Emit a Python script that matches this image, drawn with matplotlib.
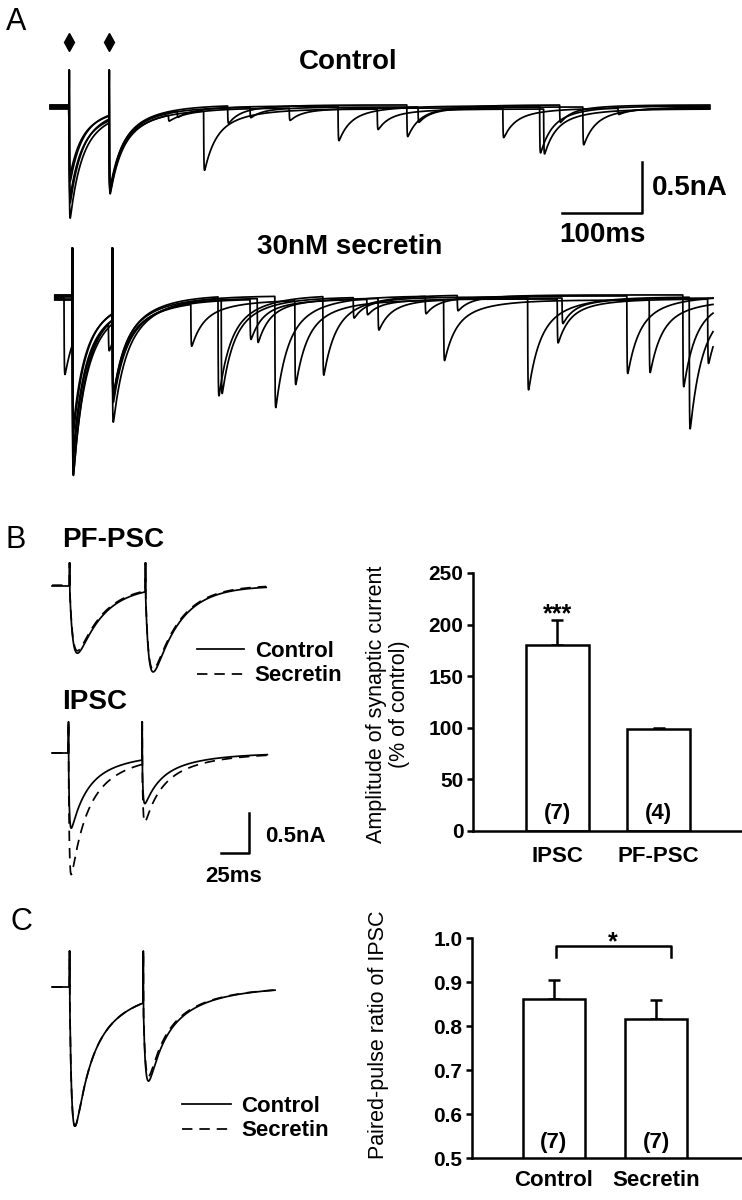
import numpy as np
import matplotlib
matplotlib.use('Agg')
import matplotlib.pyplot as plt

W, H = 742, 1200

plt.rcParams['font.family'] = ['Liberation Sans', 'DejaVu Sans']
plt.rcParams['font.weight'] = 'bold'
plt.rcParams['axes.linewidth'] = 1.8

# ---------------- data (times in ms, currents in nA) ----------------
# A: superimposed sweeps, paired stimulation
A_STIM_CTRL = [24, 74]
A_STIM_SEC = [28, 78]
A_ART_CTRL = 0.37
A_ART_SEC = 0.49
CTRL_DIP = [0.28, 0.0]
CTRL_EVOKED_1 = [1.08, 0.95, 0.85, 0.75, 0.66]
CTRL_EVOKED_2 = [0.70, 0.72, 0.68, 0.74, 0.70]
CTRL_OFFSET = [0.00, 0.02, -0.01, 0.03, 0.01]
CTRL_EV_T = [148, 159, 192, 222, 250, 299, 360, 409, 446, 460, 566, 612, 617, 637, 666, 710]
CTRL_EV_AMP = [0.06, 0.06, 0.58, 0.17, 0.10, 0.12, 0.34, 0.20, 0.31, 0.15, 0.29, 0.46, 0.44, 0.17, 0.37, 0.06]
CTRL_EV_SWEEP = [0, 1, 2, 3, 4, 0, 1, 2, 3, 4, 0, 1, 2, 3, 4, 0]

SEC_EVOKED_1 = [1.30, 1.76, 1.45, 1.35, 1.25, 1.55]
SEC_EVOKED_2 = [0.78, 0.80, 0.75, 0.82, 0.79, 0.77]
SEC_OFFSET = [0.00, 0.02, -0.02, 0.03, 0.01, -0.01]
SEC_EV_T = [17.5, 73, 176, 210, 214, 250, 259, 281, 306, 341, 379, 396,
            410, 469, 492, 509, 597, 634, 640, 721, 749, 791, 799, 822]
SEC_EV_AMP = [0.75, 0.27, 0.41, 0.97, 0.93, 0.39, 0.43, 1.09, 0.82, 0.77, 0.20, 0.15,
              0.31, 0.17, 0.59, 0.15, 0.91, 0.43, 0.25, 0.76, 0.71, 0.90, 1.29, 0.63]
SEC_EV_SWEEP = [0, 1, 2, 3, 4, 5, 0, 1, 2, 3, 4, 5, 0, 1, 2, 3, 4, 5, 0, 1, 2, 3, 4, 5]

# B: averaged traces
PF_STIM = [16, 85]
PF_ART = 0.29
PF_CTRL = [0.84, 1.02]
PF_SEC = [0.82, 1.00]
IPSC_STIM = [15, 82]
IPSC_ART = 0.39
IPSC_CTRL = [0.94, 0.55]
IPSC_SEC = [1.52, 0.73]
B_BARS = ['IPSC', 'PF-PSC']
B_MEAN = [180, 99]
B_SEM = [24, 1]
B_N = ['(7)', '(4)']

# C: normalised paired-pulse traces
C_STIM = [16, 83]
C_ART = 0.45
C_CTRL = [1.74, 1.00]
C_SEC = [1.74, 0.94]
C_BARS = ['Control', 'Secretin']
C_MEAN = [0.861, 0.816]
C_SEM = [0.044, 0.043]
C_N = ['(7)', '(7)']

# kinetics of the synaptic currents
TAU_FAST, TAU_SLOW, FAST_FRAC = 12.0, 40.0, 0.6
PF_RISE, PF_DECAY = 3.0, 24.0


def ipsc_shape(s, rise):
    return (1 - np.exp(-s / rise)) * (FAST_FRAC * np.exp(-s / TAU_FAST) + (1 - FAST_FRAC) * np.exp(-s / TAU_SLOW))


def ipsc(t, rise=0.3):
    s = np.clip(t, 0, None)
    peak = ipsc_shape(np.arange(0, 60, 0.01), rise).max()
    return ipsc_shape(s, rise) / peak


def pfpsc(t):
    s = np.clip(t, 0, None)
    g = np.arange(0, 60, 0.01)
    peak = (np.exp(-g / PF_DECAY) - np.exp(-g / PF_RISE)).max()
    return (np.exp(-s / PF_DECAY) - np.exp(-s / PF_RISE)) / peak


def sweep(t, stims, amps, art, kern, offset=0.0, dip=(0, 0), events=()):
    y = np.full(t.shape, float(offset))
    for ts, a in zip(stims, amps):
        y -= a * kern(t - ts)
    for te, a in events:
        y -= a * ipsc(t - te)
    for ts, d in zip(stims, dip):
        i = np.searchsorted(t, ts)
        if d:
            y[i - 1] = offset - d
        y[i] = art
    return y


fig = plt.figure(figsize=(W / 100, H / 100), dpi=100)


def trace_axes(left, top, right, bottom, x0, y0, sx, sy):
    # axes placed by pixel box; data origin (x0, y0) px, scale px/ms and px/nA
    ax = fig.add_axes([left / W, 1 - bottom / H, (right - left) / W, (bottom - top) / H])
    ax.set_xlim((left - x0) / sx, (right - x0) / sx)
    ax.set_ylim((y0 - bottom) / sy, (y0 - top) / sy)
    ax.axis('off')
    return ax


def fig_text(x, y, s, **kw):
    kw.setdefault('ha', 'left')
    kw.setdefault('va', 'center')
    fig.text(x / W, 1 - y / H, s, **kw)


LW = 1.25

# ---------------- panel A ----------------
axA1 = trace_axes(0, 25, 742, 240, 50, 108, 0.8, 102)
t_ctrl = np.arange(0, 825, 0.25)
for k in range(len(CTRL_EVOKED_1)):
    ev = [(tt, a) for tt, a, s in zip(CTRL_EV_T, CTRL_EV_AMP, CTRL_EV_SWEEP) if s == k]
    y = sweep(t_ctrl, A_STIM_CTRL, [CTRL_EVOKED_1[k], CTRL_EVOKED_2[k]], A_ART_CTRL,
              lambda x: ipsc(x, 0.3), CTRL_OFFSET[k], CTRL_DIP, ev)
    axA1.plot(t_ctrl, y, color='black', lw=LW)
axA1.plot(A_STIM_CTRL, [0.65, 0.65], ls='none', marker='d', ms=9, color='black')
axA1.plot([640, 740, 740], [-1.03, -1.03, -0.53], color='black', lw=1.8)
axA1.text(752, -0.78, '0.5nA', ha='left', va='center', fontsize=20)
axA1.text(690, -1.245, '100ms', ha='center', va='center', fontsize=20)

axA2 = trace_axes(0, 235, 742, 495, 50, 298, 0.8, 102)
t_sec = np.arange(6, 829, 0.25)
for k in range(len(SEC_EVOKED_1)):
    ev = [(tt, a) for tt, a, s in zip(SEC_EV_T, SEC_EV_AMP, SEC_EV_SWEEP) if s == k]
    y = sweep(t_sec, A_STIM_SEC, [SEC_EVOKED_1[k], SEC_EVOKED_2[k]], A_ART_SEC,
              lambda x: ipsc(x, 0.3), SEC_OFFSET[k], (0, 0), ev)
    axA2.plot(t_sec, y, color='black', lw=LW)

fig_text(6, 22, 'A', fontsize=22, fontweight='normal')
fig_text(348, 62, 'Control', ha='center', fontsize=20)
fig_text(350, 247, '30nM secretin', ha='center', fontsize=20)

# ---------------- panel B traces ----------------
axPF = trace_axes(0, 550, 360, 695, 52, 586, 1.1, 80)
t_b = np.arange(0, 195, 0.25)
axPF.plot(t_b, sweep(t_b, PF_STIM, PF_SEC, PF_ART, pfpsc, 0.01), color='black', lw=LW, ls=(0, (6, 4)))
axPF.plot(t_b, sweep(t_b, PF_STIM, PF_CTRL, PF_ART, pfpsc), color='black', lw=LW)

axIP = trace_axes(0, 710, 360, 900, 52, 753, 1.1, 80)
t_i = np.arange(0, 196, 0.25)
l_sec, = axIP.plot(t_i, sweep(t_i, IPSC_STIM, IPSC_SEC, IPSC_ART, lambda x: ipsc(x, 0.8)),
                   color='black', lw=LW, ls=(0, (6, 4)))
l_ctrl, = axIP.plot(t_i, sweep(t_i, IPSC_STIM, IPSC_CTRL, IPSC_ART, lambda x: ipsc(x, 0.8)),
                    color='black', lw=LW)
axIP.plot([154, 179, 179], [-1.25, -1.25, -0.75], color='black', lw=1.8)
axIP.text(194, -1.05, '0.5nA', ha='left', va='center', fontsize=16)
axIP.text(165, -1.55, '25ms', ha='center', va='center', fontsize=16)

fig_text(6, 540, 'B', fontsize=22, fontweight='normal')
fig_text(62, 540, 'PF-PSC', fontsize=20)
fig_text(62, 702, 'IPSC', fontsize=20)
fig.legend([l_ctrl, l_sec], ['Control', 'Secretin'], loc='upper left',
           bbox_to_anchor=(197 / W, 1 - 641 / H), frameon=False, handlelength=2.1,
           handletextpad=0.5, labelspacing=0.15, borderpad=0, borderaxespad=0,
           prop={'weight': 'bold', 'size': 16})

# ---------------- panel B bars ----------------
axb = fig.add_axes([473 / W, 1 - 831 / H, 269 / W, 258 / H])
xb = np.arange(len(B_BARS))
axb.bar(xb, B_MEAN, width=0.62, color='white', edgecolor='black', linewidth=1.8, zorder=2)
axb.errorbar(xb, B_MEAN, yerr=[np.zeros(len(B_SEM)), B_SEM], fmt='none', ecolor='black',
             elinewidth=1.8, capsize=4.5, capthick=1.8, zorder=1)
for i, n in enumerate(B_N):
    axb.text(i, 17.4, n, ha='center', va='center', fontsize=16)
axb.text(0, 203, '***', ha='center', va='baseline', fontsize=18)
axb.set_xlim(-0.83, 1.82)
axb.set_ylim(0, 250)
axb.set_yticks(range(0, 251, 50))
axb.set_xticks(xb, B_BARS)
axb.spines[['top', 'right']].set_visible(False)
axb.tick_params(axis='x', length=0, pad=11, labelsize=16)
axb.tick_params(axis='y', direction='out', length=4, width=1.8, labelsize=15, pad=3)
axb.set_ylabel('Amplitude of synaptic current\n(% of control)', fontsize=15.5,
               ha='center', va='center', linespacing=1.1)
axb.yaxis.set_label_coords(-0.316, 0.49)

# ---------------- panel C traces ----------------
axC = trace_axes(0, 935, 360, 1160, 52, 987, 1.1, 80)
t_c = np.arange(0, 203, 0.25)
l_csec, = axC.plot(t_c, sweep(t_c, C_STIM, C_SEC, C_ART, lambda x: ipsc(x, 2.2)),
                   color='black', lw=LW, ls=(0, (6, 4)))
l_cctrl, = axC.plot(t_c, sweep(t_c, C_STIM, C_CTRL, C_ART, lambda x: ipsc(x, 2.2)),
                    color='black', lw=LW)
fig.legend([l_cctrl, l_csec], ['Control', 'Secretin'], loc='upper left',
           bbox_to_anchor=(182 / W, 1 - 1096 / H), frameon=False, handlelength=2.2,
           handletextpad=0.45, labelspacing=0.15, borderpad=0, borderaxespad=0,
           prop={'weight': 'bold', 'size': 16})
fig_text(10, 922, 'C', fontsize=22, fontweight='normal')

# ---------------- panel C bars ----------------
axc = fig.add_axes([472 / W, 1 - 1158 / H, 270 / W, 220 / H])
xc = np.arange(len(C_BARS))
axc.bar(xc, C_MEAN, width=0.61, bottom=0, color='white', edgecolor='black', linewidth=1.8, zorder=2)
axc.errorbar(xc, C_MEAN, yerr=[np.zeros(len(C_SEM)), C_SEM], fmt='none', ecolor='black',
             elinewidth=1.8, capsize=4.5, capthick=1.8, zorder=1)
for i, n in enumerate(C_N):
    axc.text(i, 0.536, n, ha='center', va='center', fontsize=16)
axc.plot([0.02, 0.02, 1.15, 1.15], [0.957, 0.982, 0.982, 0.957], color='black', lw=1.8, clip_on=False)
axc.text(0.58, 0.975, '*', ha='center', va='baseline', fontsize=18)
axc.set_xlim(-0.80, 1.84)
axc.set_ylim(0.5, 1.0)
axc.set_yticks(np.arange(0.5, 1.01, 0.1))
axc.yaxis.set_major_formatter(matplotlib.ticker.FormatStrFormatter('%.1f'))
axc.set_xticks(xc, C_BARS)
axc.spines[['top', 'right']].set_visible(False)
axc.tick_params(axis='x', length=0, pad=9, labelsize=16)
axc.tick_params(axis='y', direction='out', length=4, width=1.8, labelsize=15, pad=3)
axc.set_ylabel('Paired-pulse ratio of IPSC', fontsize=15.5, ha='center', va='center')
axc.yaxis.set_label_coords(-0.348, 0.56)

fig.savefig('out.png', dpi=100)
